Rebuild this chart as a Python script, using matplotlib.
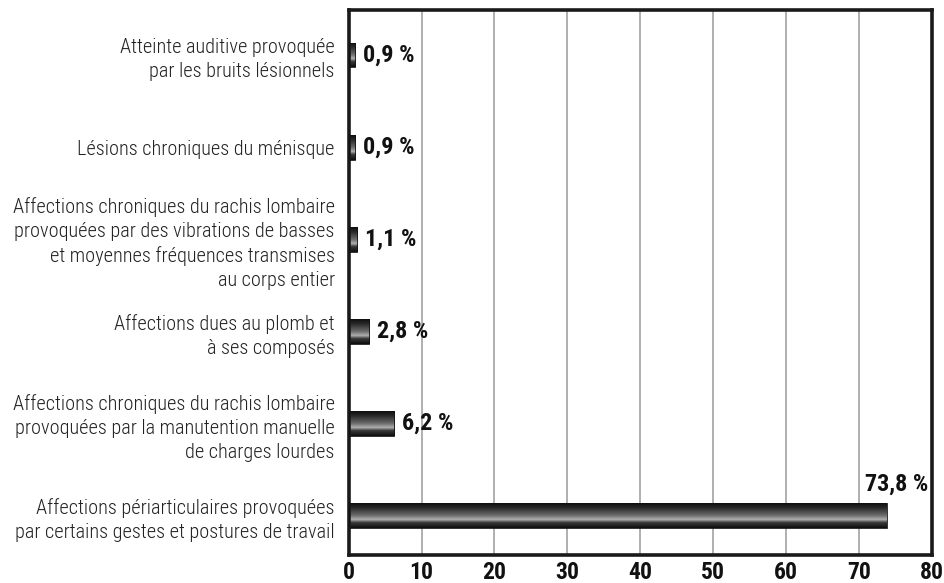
import matplotlib
matplotlib.use("Agg")
import matplotlib.pyplot as plt
import numpy as np
from matplotlib import font_manager
from matplotlib.colors import LinearSegmentedColormap

categories = [
    "Atteinte auditive provoquée\npar les bruits lésionnels",
    "Lésions chroniques du ménisque",
    "Affections chroniques du rachis lombaire\nprovoquées par des vibrations de basses\net moyennes fréquences transmises\nau corps entier",
    "Affections dues au plomb et\nà ses composés",
    "Affections chroniques du rachis lombaire\nprovoquées par la manutention manuelle\nde charges lourdes",
    "Affections périarticulaires provoquées\npar certains gestes et postures de travail",
]
values = [0.9, 0.9, 1.1, 2.8, 6.2, 73.8]
value_labels = ["0,9 %", "0,9 %", "1,1 %", "2,8 %", "6,2 %", "73,8 %"]
xticks = [0, 10, 20, 30, 40, 50, 60, 70, 80]

names = {f.name for f in font_manager.fontManager.ttflist}
narrow = "Liberation Sans Narrow" if "Liberation Sans Narrow" in names else "Roboto Condensed" if "Roboto Condensed" in names else "DejaVu Sans"
plt.rcParams["font.family"] = [narrow, "DejaVu Sans"]

fig = plt.figure(figsize=(9.45, 5.83), dpi=100)
ax = fig.add_axes([0.369, 0.048, 0.617, 0.935])

# metallic tube shading for the bars (top -> bottom)
tube = LinearSegmentedColormap.from_list(
    "tube",
    [(0.0, "#0d0d0d"), (0.2, "#2a2a2a"), (0.5, "#6e6e6e"),
     (0.66, "#b0b0b0"), (0.78, "#3a3a3a"), (1.0, "#0d0d0d")],
)
grad = np.linspace(0, 1, 256).reshape(-1, 1)

ypos = np.arange(len(categories))
h = 0.27
ax.set_xlim(0, 80)
ax.set_ylim(5.43, -0.49)

for y, v in zip(ypos, values):
    rect = ax.barh(y, v, height=h, color="none", edgecolor="#111111", lw=0.6, zorder=3)[0]
    im = ax.imshow(grad, cmap=tube, aspect="auto", origin="upper",
                   extent=[0, v, y + h / 2, y - h / 2], zorder=2)
    im.set_clip_path(rect)

ax.set_xlim(0, 80)
ax.set_ylim(5.43, -0.49)

for y, v, lab in zip(ypos, values, value_labels):
    if v > 70:
        ax.text(79.5, y - h / 2 - 0.08, lab, ha="right", va="bottom",
                fontsize=17.5, fontweight="bold", color="#111111")
    else:
        ax.text(v + 1.1, y, lab, ha="left", va="center",
                fontsize=17.5, fontweight="bold", color="#111111")

ax.set_xticks(xticks)
ax.set_xticklabels([str(t) for t in xticks], fontsize=17, fontweight="bold", color="#111111")
ax.set_yticks(ypos)
ax.set_yticklabels(categories, fontsize=14.6, fontweight="light", color="#222222", linespacing=1.33)
ax.tick_params(axis="both", length=0)
ax.tick_params(axis="y", pad=10)
ax.tick_params(axis="x", pad=4)

ax.xaxis.grid(True, color="#9a9a9a", lw=1.1)
ax.set_axisbelow(True)
for s in ax.spines.values():
    s.set_linewidth(2.6)
    s.set_color("#1a1a1a")

fig.savefig("out.png", dpi=100)
